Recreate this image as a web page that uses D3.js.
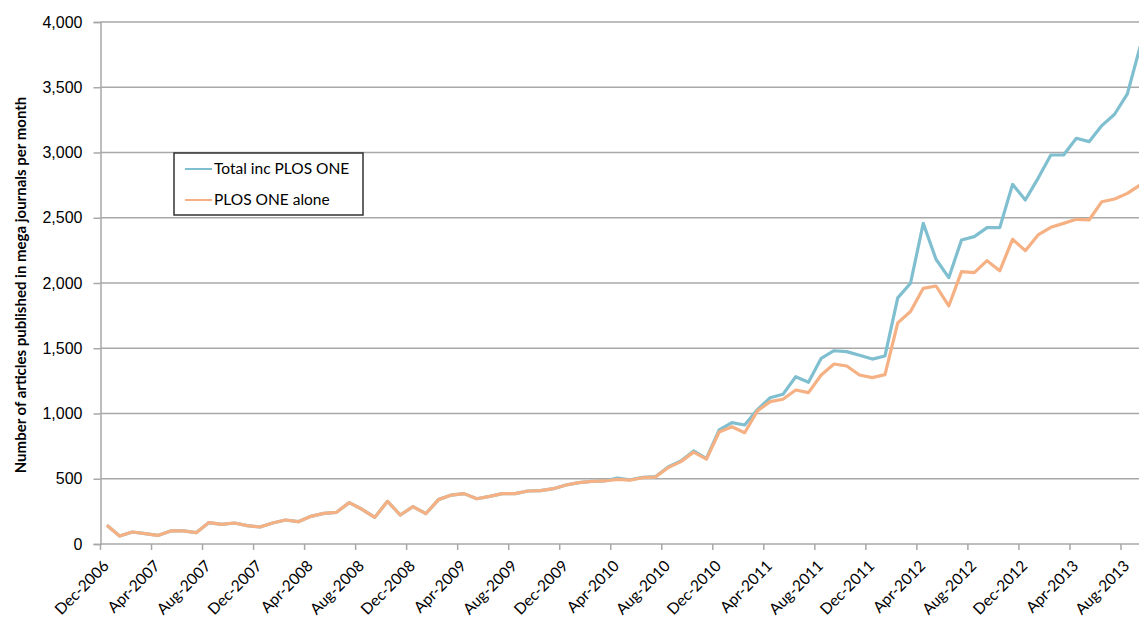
<!DOCTYPE html>
<html>
<head>
<meta charset="utf-8">
<script src="https://cdn.jsdelivr.net/npm/d3@7"></script>
<style>
  body { margin: 0; background: #fff; }
  svg { display: block; font-family: Lato, "Open Sans", sans-serif; }
</style>
</head>
<body>
<div id="chart"></div>
<script>
// Monthly categories, Dec-2006 .. Sep-2013
const fmtMonth = d3.timeFormat("%b-%Y");
const months = d3.timeMonths(new Date(2006, 11, 1), new Date(2013, 9, 1)).map(fmtMonth);

// Articles per month
const plosOneAlone = [
  143, 61, 92, 79, 66, 100, 100, 87, 164, 150, 161, 141, 130, 161, 184, 171,
  212, 235, 243, 317, 266, 204, 327, 222, 286, 232, 340, 375, 386, 347, 365, 386,
  386, 406, 409, 424, 452, 470, 480, 483, 495, 490, 508, 513, 585, 631, 704, 650,
  858, 899, 853, 1020, 1091, 1109, 1180, 1160, 1295, 1379, 1364, 1295, 1275, 1298,
  1694, 1782, 1959, 1977, 1824, 2087, 2079, 2171, 2094, 2335, 2248, 2368, 2427, 2457,
  2488, 2483, 2623, 2644, 2687, 2751
];
const totalIncPlosOne = [
  143, 61, 92, 79, 66, 100, 100, 87, 164, 150, 161, 141, 130, 161, 184, 171,
  212, 235, 243, 317, 266, 204, 327, 222, 286, 232, 340, 375, 386, 347, 365, 386,
  386, 406, 409, 424, 452, 470, 480, 483, 506, 492, 510, 516, 590, 636, 713, 655,
  874, 930, 912, 1030, 1121, 1147, 1282, 1239, 1423, 1481, 1474, 1446, 1417, 1441,
  1886, 1998, 2457, 2182, 2041, 2330, 2355, 2424, 2424, 2756, 2636, 2802, 2981, 2981,
  3109, 3083, 3206, 3293, 3449, 3811
];
const yTicks = [0, 500, 1000, 1500, 2000, 2500, 3000, 3500, 4000];
const seriesNames = ["Total inc PLOS ONE", "PLOS ONE alone"];
const seriesColors = ["#7fbfd0", "#f5b183"];

const width = 1139, height = 619;
const plotLeft = 100.5, plotTop = 22, plotBottom = 544;
const monthW = 12.756;

const svg = d3.select("#chart").append("svg")
    .attr("width", width)
    .attr("height", height);

const x = d3.scaleBand().domain(months)
    .range([plotLeft, plotLeft + months.length * monthW])
    .padding(0);
const y = d3.scaleLinear().domain([0, 4000]).range([plotBottom, plotTop]);

// gridlines
svg.append("g")
    .selectAll("line")
    .data(yTicks.slice(1))
    .enter().append("line")
    .attr("x1", plotLeft).attr("x2", width)
    .attr("y1", d => y(d)).attr("y2", d => y(d))
    .style("stroke", "#a8a8a8")
    .style("stroke-width", 1.5);

// y axis
const yAxis = svg.append("g")
    .attr("transform", `translate(${plotLeft},0)`)
    .call(d3.axisLeft(y).tickValues(yTicks).tickFormat(d3.format(",")).tickSize(7).tickPadding(11));
yAxis.select(".domain").style("stroke", "#a8a8a8").style("stroke-width", 1.5);
yAxis.selectAll(".tick line").style("stroke", "#a8a8a8").style("stroke-width", 1.5);
yAxis.selectAll("text").style("font-size", "16px").style("fill", "#000");

// x axis: tick marks between categories, every 4 months
const tickMonths = months.filter((m, i) => i % 4 === 0);
svg.append("line")
    .attr("x1", plotLeft).attr("x2", width)
    .attr("y1", plotBottom).attr("y2", plotBottom)
    .style("stroke", "#a8a8a8").style("stroke-width", 1.5);
svg.append("g")
    .selectAll("line")
    .data(tickMonths)
    .enter().append("line")
    .attr("x1", d => x(d)).attr("x2", d => x(d))
    .attr("y1", plotBottom).attr("y2", plotBottom + 6)
    .style("stroke", "#a8a8a8").style("stroke-width", 1.5);
svg.append("g")
    .selectAll("text")
    .data(tickMonths)
    .enter().append("text")
    .attr("transform", d => `translate(${x(d) + x.bandwidth() / 2 + 3},${plotBottom + 23}) rotate(-45)`)
    .style("text-anchor", "end")
    .style("font-size", "15.5px")
    .text(d => d);

// y axis title
svg.append("text")
    .attr("transform", `translate(26,${(plotTop + plotBottom) / 2 + 2}) rotate(-90)`)
    .style("text-anchor", "middle")
    .style("font-size", "15px")
    .style("font-weight", "bold")
    .text("Number of articles published in mega journals per month");

// lines
const line = d3.line()
    .x((d, i) => x(months[i]) + x.bandwidth() / 2)
    .y(d => y(d));

[totalIncPlosOne, plosOneAlone].forEach((s, i) => {
  svg.append("path")
      .datum(s)
      .attr("d", line)
      .attr("fill", "none")
      .attr("stroke", seriesColors[i])
      .attr("stroke-width", 3.2)
      .attr("stroke-linejoin", "round");
});

// legend
const legend = svg.append("g").attr("transform", "translate(174,153)");
legend.append("rect")
    .attr("width", 189).attr("height", 62)
    .attr("fill", "#fff")
    .attr("stroke", "#333")
    .attr("stroke-width", 1.5);
const items = legend.selectAll(".item")
    .data(seriesNames)
    .enter().append("g")
    .attr("transform", (d, i) => `translate(0,${16 + i * 31})`);
items.append("line")
    .attr("x1", 11).attr("x2", 38)
    .attr("stroke", (d, i) => seriesColors[i])
    .attr("stroke-width", 2);
items.append("text")
    .attr("x", 40).attr("dy", "0.35em")
    .style("font-size", "15.5px")
    .text(d => d);
</script>
</body>
</html>
